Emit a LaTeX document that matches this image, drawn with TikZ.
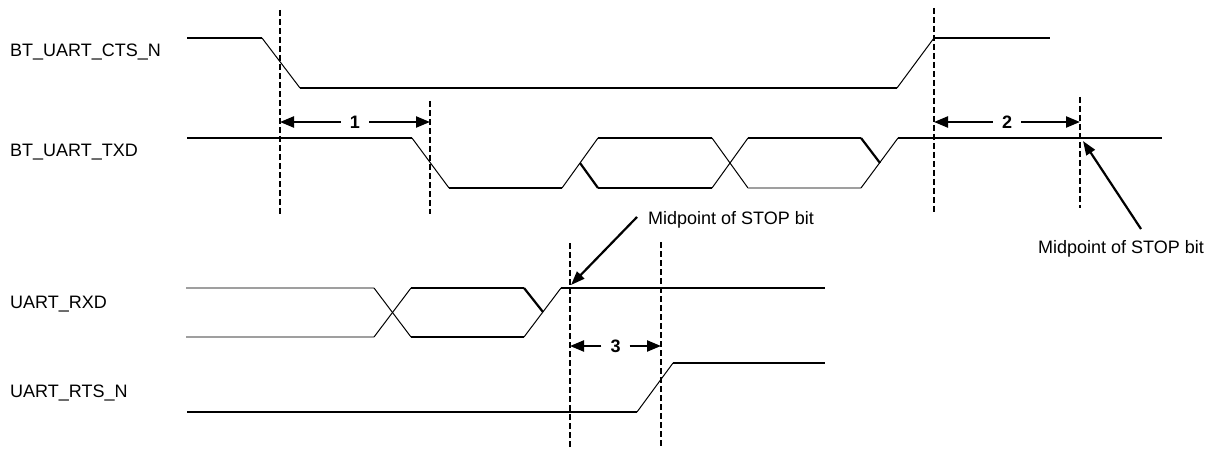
\documentclass[tikz,border=0pt]{standalone}
\usepackage{fontspec}
\setmainfont{Liberation Sans}
\usetikzlibrary{arrows.meta,calc}
\begin{document}
\begin{tikzpicture}[x=1pt,y=-1pt,
    sig/.style={line width=2.2pt,black},
    edge/.style={line width=1pt,black},
    idle/.style={line width=2.2pt,gray!75},
    marker/.style={line width=2pt,dash pattern=on 6pt off 3pt},
    dimarrow/.style={line width=2.2pt,-{Triangle[length=14pt,width=11pt]}},
    pointer/.style={line width=2.2pt,-{Triangle[length=14pt,width=10pt]}},
    num/.style={font=\fontsize{18}{20}\selectfont\bfseries,inner sep=0pt,minimum width=28pt,minimum height=16pt,fill=white},
    lbl/.style={font=\fontsize{18}{20}\selectfont,inner sep=0pt}]
    \useasboundingbox (0,0) rectangle (1218,449);

    % signal names
    \node[lbl,anchor=base west] (cts) at (10,57) {BT\_UART\_CTS\_N};
    \node[lbl,anchor=base west] (txd) at (10,157) {BT\_UART\_TXD};
    \node[lbl,anchor=base west] (rxd) at (10,308) {UART\_RXD};
    \node[lbl,anchor=base west] (rts) at (10,397) {UART\_RTS\_N};

    % BT_UART_CTS_N
    \draw[sig] (187,38) -- (262,38);
    \draw[edge] (262,38) -- (300,88);
    \draw[sig] (300,88) -- (897,88);
    \draw[edge] (897,88) -- (934,38);
    \draw[sig] (934,38) -- (1050,38);

    % BT_UART_TXD
    \draw[sig] (187,138) -- (412,138);
    \draw[edge] (412,138) -- (449,188);
    \draw[sig] (449,188) -- (562,188);
    \draw[edge] (562,188) -- (598,138);
    \draw[sig] (580,163) -- (598,188);
    \draw[sig] (598,138) -- (712,138);
    \draw[sig] (598,188) -- (712,188);
    \draw[edge] (712,138) -- (748,188);
    \draw[edge] (712,188) -- (748,138);
    \draw[sig] (748,138) -- (861,138);
    \draw[idle] (748,188) -- (861,188);
    \draw[sig] (861,138) -- (880,163);
    \draw[edge] (861,188) -- (898,138);
    \draw[sig] (898,138) -- (1162,138);

    % UART_RXD
    \draw[idle] (186,288) -- (374,288);
    \draw[idle] (186,337) -- (374,337);
    \draw[edge] (374,288) -- (411,337);
    \draw[edge] (374,337) -- (411,288);
    \draw[sig] (411,288) -- (524,288);
    \draw[sig] (411,337) -- (524,337);
    \draw[sig] (524,288) -- (543,312);
    \draw[edge] (524,337) -- (561,288);
    \draw[sig] (561,288) -- (825,288);

    % UART_RTS_N
    \draw[sig] (187,412) -- (637,412);
    \draw[edge] (637,412) -- (673,363);
    \draw[sig] (673,363) -- (825,363);

    % timing markers
    \coordinate (m1t) at (280,10);
    \coordinate (m1b) at (280,214);
    \coordinate (m2t) at (430,101);
    \coordinate (m2b) at (430,214);
    \coordinate (m3t) at (934,8);
    \coordinate (m3b) at (934,213);
    \coordinate (m4t) at (1080,97);
    \coordinate (m4b) at (1080,208);
    \coordinate (m5t) at (570,243);
    \coordinate (m5b) at (570,449);
    \coordinate (m6t) at (661,242);
    \coordinate (m6b) at (661,449);
    \foreach \m in {1,...,6}
        \draw[marker] (m\m t) -- (m\m b);

    % delays
    \coordinate (d1l) at (280,122);
    \coordinate (d1r) at (430,122);
    \coordinate (d2l) at (934,122);
    \coordinate (d2r) at (1080,122);
    \coordinate (d3l) at (570,346);
    \coordinate (d3r) at (661,346);
    \foreach \d in {1,2,3} {
        \node[num] (n\d) at ($(d\d l)!0.5!(d\d r)$) {\d};
        \draw[dimarrow] (n\d) -- (d\d l);
        \draw[dimarrow] (n\d) -- (d\d r);
    }

    % stop bit callouts
    \node[lbl,anchor=base west] (stopa) at (648,225) {Midpoint of STOP bit};
    \coordinate (pa) at (637,217);
    \coordinate (ta) at (571,285);
    \draw[pointer] (pa) -- (ta);
    \node[lbl,anchor=base west] (stopb) at (1038,253) {Midpoint of STOP bit};
    \coordinate (pb) at (1141,229);
    \coordinate (tb) at (1083,141);
    \draw[pointer] (pb) -- (tb);

\end{tikzpicture}
\end{document}
